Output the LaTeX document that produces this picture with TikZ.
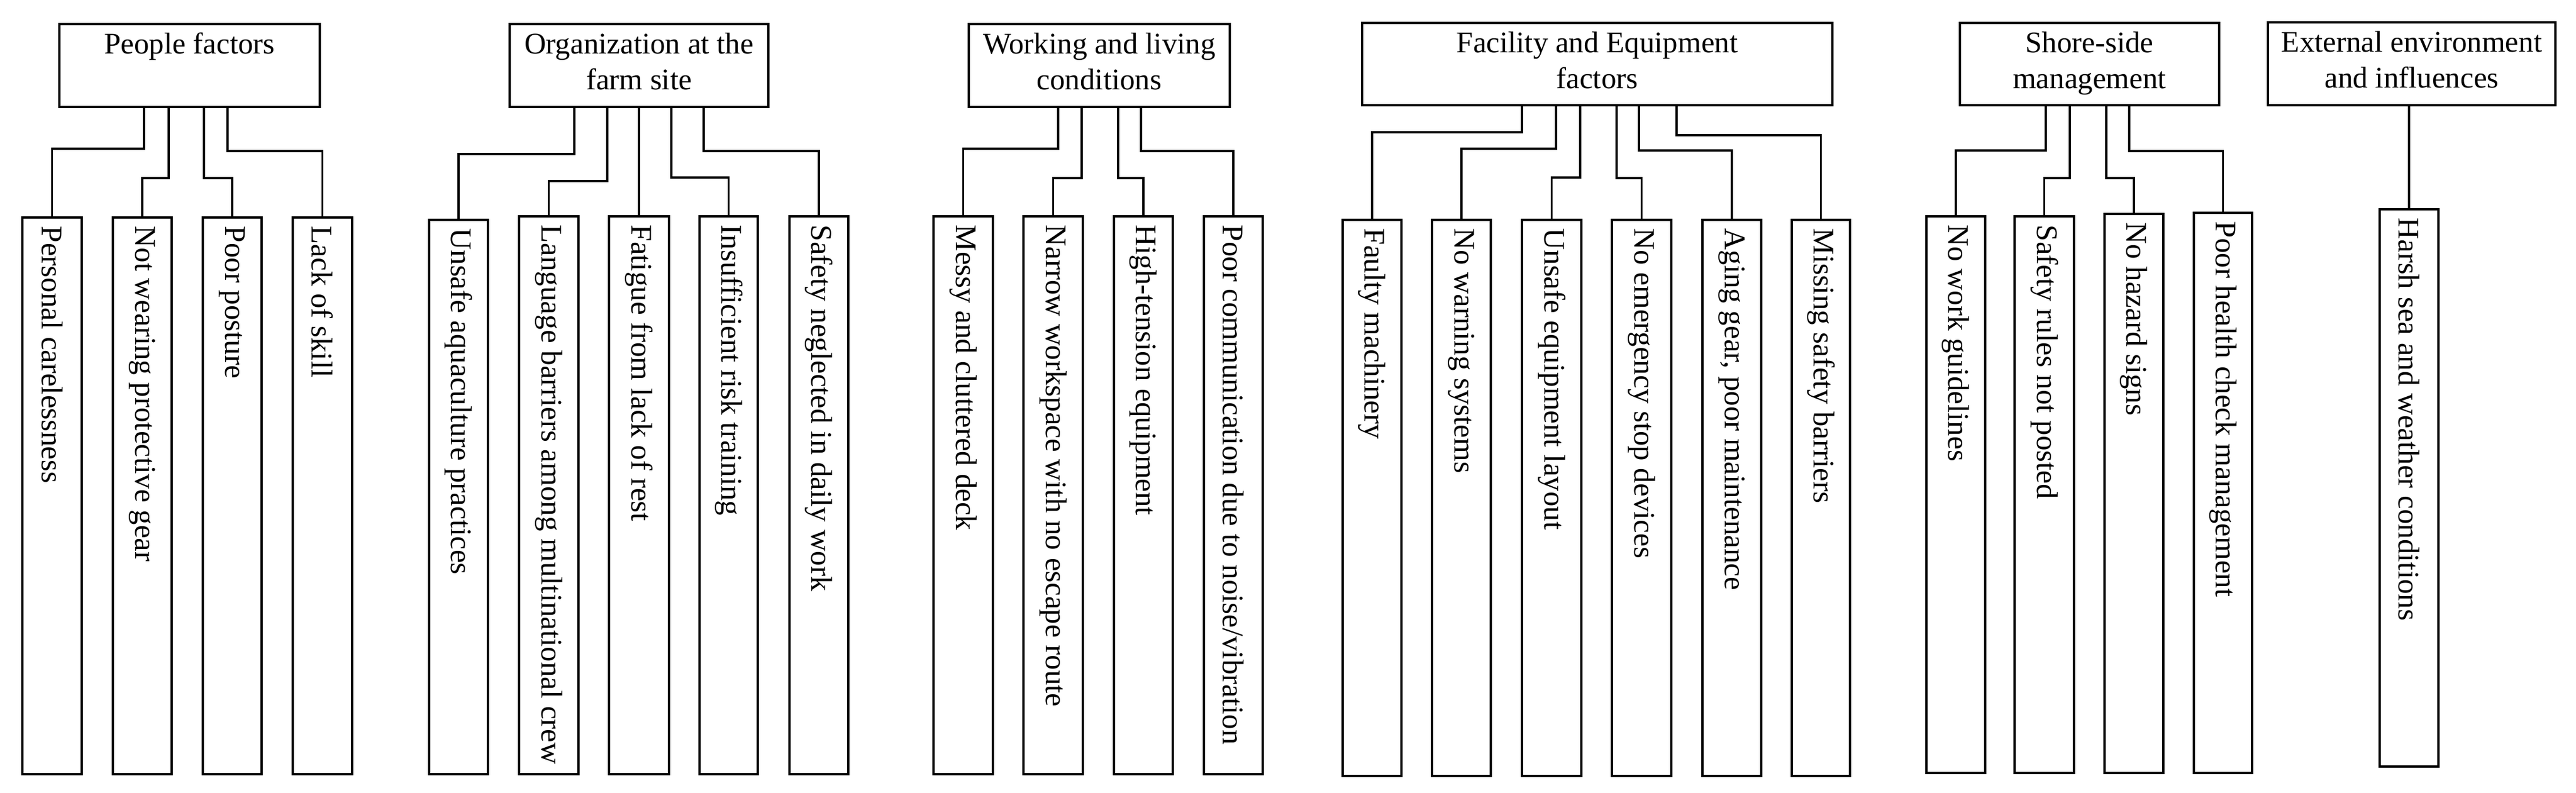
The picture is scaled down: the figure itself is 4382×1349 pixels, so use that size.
\documentclass[tikz,border=0pt]{standalone}
\usepackage{fontspec}
\setmainfont{Liberation Serif}
\begin{document}
\begin{tikzpicture}[x=0.01cm,y=-0.01cm,
  box/.style={draw,line width=0.9pt,rectangle,inner sep=0pt},
  ptext/.style={anchor=north,align=center,font=\fontsize{14.5}{17.5}\selectfont,inner sep=0pt},
  ktext/.style={rotate=-90,anchor=west,font=\fontsize{14.5}{17.5}\selectfont,inner sep=0pt},
  conn/.style={line width=0.9pt}]
\useasboundingbox (0,0) rectangle (4382,1349);
\newcommand\mkpar[6]{% name x1 x2 y1 y2 text
  \node[box,minimum width={(#3-#2)*0.01cm},minimum height={(#5-#4)*0.01cm}] (#1) at ({(#2+#3)/2},{(#4+#5)/2}) {};
  \node[ptext] (#1t) at ({(#2+#3)/2},{#4+14}) {#6};}
\newcommand\mkkid[6]{% name x1 x2 y1 y2 text
  \node[box,minimum width={(#3-#2)*0.01cm},minimum height={(#5-#4)*0.01cm}] (#1) at ({(#2+#3)/2},{(#4+#5)/2}) {};
  \node[ktext] (#1t) at ({(#2+#3)/2},{#4+14}) {#6};}
\newcommand\elb[4]{% parent kid xp ymid
  \draw[conn] (#3,0 |- #1.south) |- (#2.north |- 0,#4) -- (#2.north);}
\newcommand\str[2]{\draw[conn] (#2.north |- #1.south) -- (#2.north);}

% People
\mkpar{P}{101}{544}{41}{182}{People factors}
\mkkid{P1}{38}{139}{370}{1317}{Personal carelessness}
\mkkid{P2}{192}{292}{370}{1317}{Not wearing protective gear}
\mkkid{P3}{345}{445}{370}{1317}{Poor posture}
\mkkid{P4}{498}{599}{370}{1317}{Lack of skill}
\elb{P}{P1}{245}{253}
\elb{P}{P2}{287}{303}
\elb{P}{P3}{347}{303}
\elb{P}{P4}{387}{257}

% Organization
\mkpar{O}{867}{1307}{41}{182}{Organization at the\\farm site}
\mkkid{O1}{730}{830}{374}{1317}{Unsafe aquaculture practices}
\mkkid{O2}{883}{984}{368}{1317}{Language barriers among multinational crew}
\mkkid{O3}{1036}{1138}{368}{1317}{Fatigue from lack of rest}
\mkkid{O4}{1190}{1289}{368}{1317}{Insufficient risk training}
\mkkid{O5}{1343}{1443}{368}{1317}{Safety neglected in daily work}
\elb{O}{O1}{977}{262}
\elb{O}{O2}{1033}{308}
\str{O}{O3}
\elb{O}{O4}{1142}{302}
\elb{O}{O5}{1197}{257}

% Working
\mkpar{W}{1648}{2092}{41}{182}{Working and living\\conditions}
\mkkid{W1}{1588}{1689}{368}{1317}{Messy and cluttered deck}
\mkkid{W2}{1741}{1842}{368}{1317}{Narrow workspace with no escape route}
\mkkid{W3}{1895}{1995}{368}{1317}{High-tension equipment}
\mkkid{W4}{2048}{2148}{368}{1317}{Poor communication due to noise/vibration}
\elb{W}{W1}{1800}{253}
\elb{W}{W2}{1840}{303}
\elb{W}{W3}{1902}{303}
\elb{W}{W4}{1941}{257}

% Facility
\mkpar{F}{2317}{3117}{39}{179}{Facility and Equipment\\factors}
\mkkid{F1}{2284}{2384}{374}{1320}{Faulty machinery}
\mkkid{F2}{2436}{2536}{374}{1320}{No warning systems}
\mkkid{F3}{2589}{2690}{374}{1320}{Unsafe equipment layout}
\mkkid{F4}{2742}{2843}{374}{1320}{No emergency stop devices}
\mkkid{F5}{2896}{2996}{374}{1320}{Aging gear, poor maintenance}
\mkkid{F6}{3048}{3147}{374}{1320}{Missing safety barriers}
\elb{F}{F1}{2589}{225}
\elb{F}{F2}{2647}{253}
\elb{F}{F3}{2688}{302}
\elb{F}{F4}{2750}{303}
\elb{F}{F5}{2788}{256}
\elb{F}{F6}{2852}{230}

% Shore
\mkpar{S}{3334}{3775}{39}{179}{Shore-side\\management}
\mkkid{S1}{3277}{3377}{368}{1315}{No work guidelines}
\mkkid{S2}{3427}{3528}{368}{1315}{Safety rules not posted}
\mkkid{S3}{3580}{3680}{364}{1315}{No hazard signs}
\mkkid{S4}{3732}{3831}{362}{1315}{Poor health check management}
\elb{S}{S1}{3480}{256}
\elb{S}{S2}{3521}{303}
\elb{S}{S3}{3583}{303}
\elb{S}{S4}{3622}{257}

% External
\mkpar{E}{3858}{4347}{38}{179}{External environment\\and influences}
\mkkid{E1}{4048}{4148}{356}{1304}{Harsh sea and weather conditions}
\str{E}{E1}
\end{tikzpicture}
\end{document}
